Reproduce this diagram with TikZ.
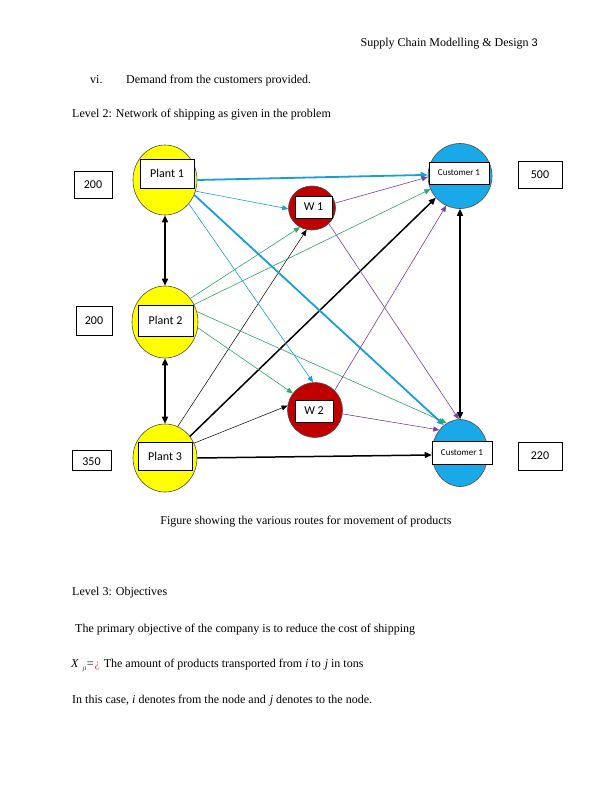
\documentclass[tikz,border=0pt]{standalone}
\usepackage{fontspec}
\setmainfont{Liberation Serif}
\newfontfamily\carlito{Carlito}
\newfontfamily\lsans{Liberation Sans}
\usetikzlibrary{shapes.geometric,arrows.meta}
\definecolor{plantY}{HTML}{FFFF00}
\definecolor{whR}{HTML}{C00000}
\definecolor{custB}{HTML}{19A9E8}
\definecolor{lnCyan}{HTML}{1A9ED9}
\definecolor{lnGreen}{HTML}{2CA66A}
\definecolor{lnPurple}{HTML}{7A3FA0}
\definecolor{qmark}{HTML}{C0504D}
\begin{document}
\begin{tikzpicture}[x=1pt,y=-1pt,
 site/.style={ellipse, draw=gray!60!black, line width=0.6pt, inner sep=0pt},
 plant/.style={site, fill=plantY, minimum width=64pt, minimum height=70pt},
 ware/.style={site, fill=whR},
 cust/.style={site, fill=custB},
 lbl/.style={draw=black, fill=white, line width=0.8pt, inner sep=0pt, font=\carlito\fontsize{12}{12}\selectfont},
 clbl/.style={lbl, font=\carlito\fontsize{9}{9}\selectfont},
 qty/.style={draw=black, line width=0.8pt, inner sep=0pt, font=\carlito\fontsize{12}{12}\selectfont},
 body/.style={anchor=base west, inner sep=0pt, font=\fontsize{12}{14}\selectfont},
 heavy/.style={line width=1.5pt, -{Triangle[length=7pt,width=6pt]}},
 both/.style={line width=1.5pt, {Triangle[length=7pt,width=6pt]}-{Triangle[length=7pt,width=6pt]}},
 thinarr/.style={line width=0.5pt, -{Triangle[length=6pt,width=5pt]}},
 cyanthick/.style={draw=lnCyan, line width=1.8pt, -{Triangle[length=7pt,width=6pt]}},
 cyanthin/.style={thinarr, draw=lnCyan, line width=0.6pt},
 greenthin/.style={thinarr, draw=lnGreen, line width=0.6pt},
 purplethin/.style={thinarr, draw=lnPurple, line width=0.6pt},
 blackthin/.style={thinarr, draw=black, line width=0.5pt}
]
\useasboundingbox (0,0) rectangle (612,792);
\fill[white] (0,0) rectangle (612,792);

% text
\node[anchor=base east, inner sep=0pt, font=\fontsize{12}{14}\selectfont] (hdr) at (538,47) {Supply Chain Modelling \& Design {\lsans\fontsize{11}{12}\selectfont 3}};
\node[body] (vi) at (90,83) {vi.};
\node[body] (dem) at (126,83) {Demand from the customers provided.};
\node[body] (lv2) at (72,117) {Level 2: Network of shipping as given in the problem};
\node[anchor=base, inner sep=0pt, font=\fontsize{12}{14}\selectfont] (cap) at (306,524) {Figure showing the various routes for movement of products};
\node[body] (lv3) at (72,595) {Level 3: Objectives};
\node[body] (obj) at (75,632) {The primary objective of the company is to reduce the cost of shipping};
\node[body] (xdef) at (71,667) {\textit{X}\hspace{4pt}\raisebox{-3pt}{\fontsize{6}{6}\selectfont\textit{ji}}\hspace{0.5pt}=\textcolor{qmark}{\hspace{1pt}¿}\hspace{4pt}The amount of products transported from \textit{i} to \hspace{1pt}\textit{j} in tons};
\node[body] (ij) at (72,703) {In this case, \textit{i} denotes from the node and \hspace{1pt}\textit{j} denotes to the node.};

% sites
\node[plant] (p1) at (165,180) {};
\node[plant, minimum width=66pt, minimum height=72pt] (p2) at (165,322) {};
\node[plant, minimum height=68pt] (p3) at (165,458) {};
\node[ware, minimum width=47pt, minimum height=44pt] (w1) at (312,208) {};
\node[ware, minimum width=55pt, minimum height=55pt] (w2) at (315,410) {};
\node[cust, minimum width=64pt, minimum height=65pt] (c1) at (460,176) {};
\node[cust, minimum width=56pt, minimum height=67pt] (c2) at (460,453) {};

% labels
\node[lbl, minimum width=54pt, minimum height=29pt] (lp1) at (167,173.5) {Plant 1};
\node[lbl, minimum width=55pt, minimum height=31pt] (lp2) at (165.5,320.5) {Plant 2};
\node[lbl, minimum width=54pt, minimum height=28pt] (lp3) at (165,456) {Plant 3};
\node[lbl, minimum width=37pt, minimum height=22pt] (lw1) at (313.5,207) {W 1};
\node[lbl, minimum width=38pt, minimum height=22pt] (lw2) at (314,411) {W 2};
\node[clbl, minimum width=60pt, minimum height=22pt] (lc1) at (459,173) {Customer 1};
\node[clbl, minimum width=60pt, minimum height=23pt] (lc2) at (462,452.5) {Customer 1};

% quantities
\node[qty, minimum width=38pt, minimum height=27pt] (s1) at (93,184.5) {200};
\node[qty, minimum width=36pt, minimum height=29pt] (s2) at (94,320.5) {200};
\node[qty, minimum width=39pt, minimum height=20pt, text depth=-2pt] (s3) at (91.5,460) {\raisebox{-3pt}{350}};
\node[qty, minimum width=44pt, minimum height=27pt] (d1) at (540,174.5) {500};
\node[qty, minimum width=44pt, minimum height=28pt] (d2) at (540,456) {220};

% black connectors
\draw[both] (p1.south) -- (p2.north);
\draw[both] (p2.south) -- (p3.north);
\draw[both] (c1.south) -- (c2.north);
\draw[heavy] (p3.41) -- (c1.222);
\draw[heavy] (p3.0) -- (c2.184);
\draw[blackthin] (p3.68) -- (w1.256);
\draw[blackthin] (p3.27) -- (w2.171);

% cyan from plant 1
\draw[cyanthick] (p1.0) -- (c1.178);
\draw[cyanthin] (p1.340) -- (w1.182);
\draw[cyanthick] (p1.333) -- (c2.120);
\draw[cyanthin] (p1.315) -- (w2.94);

% green from plant 2
\draw[greenthin] (p2.43) -- (w1.238);
\draw[greenthin] (p2.31) -- (c1.204);
\draw[greenthin] (p2.350) -- (w2.143);
\draw[greenthin] (p2.18) -- (c2.114);

% purple from warehouses
\draw[purplethin] (w1.12) -- (c1.182);
\draw[purplethin] (w1.317) -- (c2.92);
\draw[purplethin] (w2.45) -- (c1.245);
\draw[purplethin] (w2.352) -- (c2.132);
\end{tikzpicture}
\end{document}
